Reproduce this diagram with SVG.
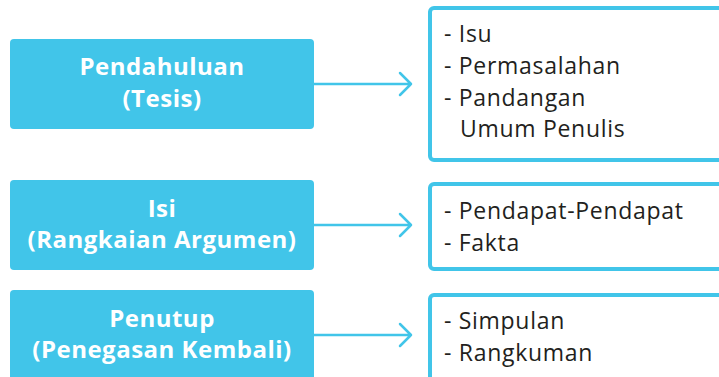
<svg xmlns="http://www.w3.org/2000/svg" width="719" height="377" viewBox="0 0 719 377">
<style>
.lb{fill:#41C5E9}
.rb{fill:#fff;stroke:#41C5E9;stroke-width:4}
.lt{font-family:"Open Sans",sans-serif;font-weight:bold;font-size:24px;letter-spacing:0.5px;fill:#fff;text-anchor:middle}
.rt{font-family:"Open Sans",sans-serif;font-size:23px;letter-spacing:0.7px;fill:#231F20}
.cn{fill:none;stroke:#41C5E9;stroke-width:2.5;stroke-linecap:round;stroke-linejoin:round}
</style>
<rect width="719" height="377" fill="#fff"/>
<g id="n1">
<rect class="lb" x="10" y="39" width="304" height="90" rx="4"/>
<text class="lt" x="162" y="75">Pendahuluan</text>
<text class="lt" x="162" y="107">(Tesis)</text>
</g>
<g id="n2">
<rect class="lb" x="10" y="180" width="304" height="90" rx="4"/>
<text class="lt" x="162" y="217">Isi</text>
<text class="lt" x="162" y="248">(Rangkaian Argumen)</text>
</g>
<g id="n3">
<rect class="lb" x="10" y="290" width="304" height="100" rx="4"/>
<text class="lt" x="162" y="327">Penutup</text>
<text class="lt" x="162" y="358">(Penegasan Kembali)</text>
</g>
<g id="r1">
<rect class="rb" x="430" y="8" width="300" height="152" rx="4"/>
<text class="rt" x="444" y="42">- Isu</text>
<text class="rt" x="444" y="74">- Permasalahan</text>
<text class="rt" x="444" y="106">- Pandangan</text>
<text class="rt" x="460" y="137">Umum Penulis</text>
</g>
<g id="r2">
<rect class="rb" x="430" y="184" width="300" height="85" rx="4"/>
<text class="rt" x="444" y="219">- Pendapat-Pendapat</text>
<text class="rt" x="444" y="251">- Fakta</text>
</g>
<g id="r3">
<rect class="rb" x="430" y="295" width="300" height="100" rx="4"/>
<text class="rt" x="444" y="329">- Simpulan</text>
<text class="rt" x="444" y="361">- Rangkuman</text>
</g>
<g id="connectors">
<path class="cn" d="M314 84H411M400 73L411 84L400 95"/>
<path class="cn" d="M314 225H411M400 214L411 225L400 236"/>
<path class="cn" d="M314 335H411M400 324L411 335L400 346"/>
</g>
</svg>
